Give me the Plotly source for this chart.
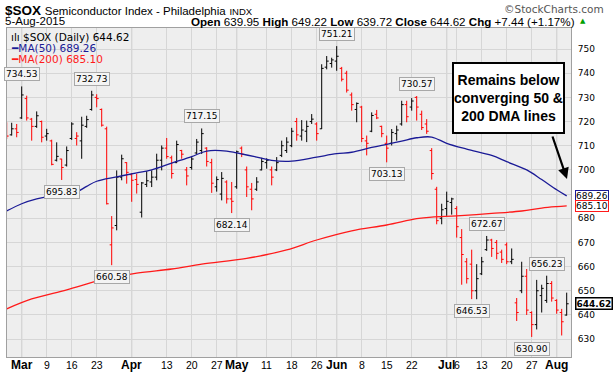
import pandas as pd
import plotly.graph_objects as go

# ---------------- data ----------------
holidays = ["2015-04-03", "2015-05-25", "2015-07-03"]
dates = [d for d in pd.bdate_range("2015-02-25", "2015-08-05").strftime("%Y-%m-%d") if d not in holidays]

opens = [717.0, 714.5, 717.0,
         721.5, 729.5, 721.0, 718.0, 720.0, 714.0, 712.0, 704.0, 704.5, 702.0,
         713.0, 713.0, 712.0, 718.0, 725.0, 730.0, 725.0, 717.0, 669.0, 677.0,
         697.0, 703.0, 698.0, 696.0, 682.5, 694.0, 695.0, 697.0, 704.0, 709.0,
         705.0, 703.0, 708.0, 700.0, 701.0, 707.0, 708.0, 709.0, 703.0, 693.0,
         690.0, 695.0, 688.0, 693.0, 709.0, 700.0, 692.0, 692.0, 700.0, 703.0,
         700.0, 700.0, 706.0, 708.0, 710.0, 720.0, 714.0, 716.0, 720.0, 719.0,
         717.0, 742.5, 744.0, 745.0, 742.0, 740.0, 731.0, 725.0, 726.0, 712.0,
         716.0, 723.0, 718.0, 711.0, 711.0, 715.0, 719.0, 727.0, 726.0, 730.0,
         723.0, 719.0, 708.0, 692.0, 680.0, 684.0, 686.5, 684.0, 672.0, 662.0,
         661.0, 650.0, 657.0, 667.0, 671.0, 670.0, 666.0, 669.0, 662.0, 645.0,
         650.0, 656.0, 641.0, 636.0, 648.0, 646.0, 653.0, 646.0, 641.0, 639.95]
highs = [719.7, 719.5, 719.0,
         734.53, 730.7, 721.5, 724.2, 720.4, 717.0, 712.5, 711.4, 704.6, 709.7,
         719.7, 715.6, 722.0, 722.4, 732.73, 731.3, 725.4, 717.9, 680.9, 699.8,
         706.3, 703.2, 698.7, 698.4, 695.0, 699.5, 699.8, 706.7, 710.1, 713.2,
         705.9, 712.1, 708.3, 701.2, 705.3, 712.8, 717.15, 709.4, 704.6, 697.3,
         699.1, 695.7, 695.0, 708.0, 709.7, 701.4, 694.6, 697.0, 705.0, 704.8,
         701.4, 705.3, 712.1, 713.5, 717.4, 721.5, 720.6, 720.4, 723.1, 719.7,
         743.7, 747.1, 746.4, 751.21, 742.6, 741.0, 732.0, 727.9, 726.5, 714.2,
         723.8, 724.8, 718.3, 714.2, 716.9, 718.3, 728.6, 728.6, 729.7, 730.57,
         724.5, 721.0, 709.0, 693.0, 686.0, 691.0, 688.5, 685.0, 675.5, 663.5,
         667.0, 661.0, 664.0, 672.67, 671.5, 671.0, 667.0, 670.0, 667.5, 647.0,
         662.0, 659.0, 641.5, 654.5, 652.5, 656.23, 654.0, 646.5, 642.5, 649.22]
lows = [712.8, 714.2, 713.5,
        721.1, 720.4, 712.1, 717.4, 711.4, 712.1, 701.9, 703.5, 695.83, 701.4,
        712.4, 710.1, 704.6, 717.4, 724.5, 725.9, 717.9, 685.7, 660.58, 675.0,
        695.7, 694.3, 686.8, 690.2, 680.3, 692.9, 692.9, 695.7, 699.8, 704.6,
        696.4, 702.8, 704.6, 693.6, 700.1, 706.6, 706.6, 701.4, 690.5, 691.0,
        687.4, 686.1, 682.14, 692.2, 705.3, 688.8, 683.3, 691.3, 699.8, 700.5,
        693.6, 699.5, 705.3, 707.0, 709.4, 712.1, 712.1, 711.5, 719.0, 712.1,
        716.9, 741.6, 742.3, 741.0, 736.6, 732.0, 724.5, 719.7, 711.5, 706.0,
        715.6, 721.0, 713.5, 703.13, 710.1, 712.1, 718.3, 719.7, 724.5, 720.4,
        716.5, 714.9, 696.0, 677.5, 677.5, 681.0, 681.5, 672.0, 652.5, 653.0,
        646.53, 646.5, 656.5, 666.5, 664.0, 663.0, 661.5, 661.0, 661.0, 637.5,
        649.0, 640.0, 630.90, 634.0, 641.0, 645.0, 645.5, 640.5, 631.5, 639.72]
closes = [714.0, 717.0, 715.5,
          731.0, 721.5, 718.0, 722.4, 713.5, 715.0, 702.3, 705.6, 701.0, 708.0,
          719.0, 714.0, 718.5, 720.8, 731.0, 729.5, 718.5, 686.0, 676.0, 697.0,
          704.6, 699.0, 695.7, 694.0, 694.6, 695.5, 697.0, 704.0, 709.0, 705.5,
          698.5, 710.5, 706.5, 697.5, 704.5, 711.5, 715.0, 703.5, 694.5, 696.0,
          696.5, 688.0, 687.0, 707.5, 706.5, 693.0, 688.0, 695.0, 703.5, 704.0,
          697.0, 703.0, 710.0, 711.5, 716.0, 714.5, 716.5, 718.0, 721.0, 715.0,
          742.0, 745.0, 745.5, 747.0, 737.5, 733.0, 727.0, 727.5, 713.0, 711.0,
          722.5, 721.5, 715.0, 709.0, 715.5, 716.5, 727.0, 722.0, 728.5, 726.0,
          717.5, 716.0, 698.5, 679.0, 683.5, 687.0, 688.0, 676.5, 665.0, 655.0,
          650.0, 655.0, 662.0, 671.0, 667.5, 665.5, 663.0, 662.0, 663.0, 641.0,
          656.0, 642.0, 636.0, 650.0, 651.0, 653.0, 647.0, 642.0, 637.18, 644.62]

# moving averages read at sample dates
ma50_dates = ["2015-02-25", "2015-03-02", "2015-03-05", "2015-03-10", "2015-03-17", "2015-03-19",
              "2015-03-23", "2015-03-27", "2015-04-02", "2015-04-08", "2015-04-14", "2015-04-20",
              "2015-04-23", "2015-04-29", "2015-05-01", "2015-05-07", "2015-05-12", "2015-05-18",
              "2015-05-26", "2015-06-01", "2015-06-04", "2015-06-10", "2015-06-15", "2015-06-18",
              "2015-06-23", "2015-06-26", "2015-07-01", "2015-07-08", "2015-07-15", "2015-07-20",
              "2015-07-24", "2015-07-29", "2015-08-03", "2015-08-05"]
ma50_vals = [683.0, 686.0, 688.0, 689.2, 690.9, 693.2, 695.3, 697.1, 698.8, 700.0, 702.8, 705.5,
             707.8, 707.8, 707.0, 705.3, 703.9, 703.6, 705.3, 706.7, 707.3, 709.3, 710.6, 711.9,
             713.3, 713.6, 711.0, 708.6, 706.0, 703.4, 700.0, 696.0, 691.8, 689.26]
ma200_dates = ["2015-02-25", "2015-03-04", "2015-03-13", "2015-03-24", "2015-04-02", "2015-04-14",
               "2015-04-22", "2015-05-05", "2015-05-15", "2015-05-26", "2015-06-04", "2015-06-15",
               "2015-06-23", "2015-06-26", "2015-07-06", "2015-07-15", "2015-07-23", "2015-07-29",
               "2015-08-03", "2015-08-05"]
ma200_vals = [642.5, 646.6, 650.4, 654.5, 657.3, 659.0, 661.0, 663.4, 666.9, 671.0, 674.8, 677.2,
              679.8, 680.5, 681.0, 682.0, 683.0, 684.2, 684.8, 685.10]

tick_dates = ["2015-03-02", "2015-03-09", "2015-03-16", "2015-03-23", "2015-04-01", "2015-04-13",
              "2015-04-20", "2015-04-27", "2015-05-01", "2015-05-11", "2015-05-18", "2015-05-26",
              "2015-06-01", "2015-06-08", "2015-06-15", "2015-06-22", "2015-07-01", "2015-07-06",
              "2015-07-13", "2015-07-20", "2015-07-27", "2015-08-03"]
tick_labels = ["Mar", "9", "16", "23", "Apr", "13", "20", "27", "May", "11", "18",
               "26", "Jun", "8", "15", "22", "Jul", "6", "13", "20", "27", "Aug"]
month_dates = ["2015-03-02", "2015-04-01", "2015-05-01", "2015-06-01", "2015-07-01", "2015-08-03"]

high_marks = ["2015-03-02", "2015-03-20", "2015-04-22", "2015-06-01", "2015-06-23", "2015-07-14", "2015-07-30"]
low_marks = ["2015-03-12", "2015-03-26", "2015-04-30", "2015-06-15", "2015-07-09", "2015-07-27"]

y_ticks = list(range(630, 751, 10))

# ---------------- geometry helpers ----------------
FW, FH = 613, 376
L, R, T, B = 7, 571, 28, 357
PW, PH = R - L, B - T
def px(x):
    return (x - L) / PW
def py(y):
    return (B - y) / PH

idx = {d: i for i, d in enumerate(dates)}
xs = list(range(len(dates)))

up_i, dn_i = [], []
for i in xs:
    prev = closes[i - 1] if i > 0 else opens[i]
    (up_i if closes[i] >= prev else dn_i).append(i)

fig = go.Figure()

for sel, col in ((up_i, "#000000"), (dn_i, "#ff0000")):
    fig.add_trace(go.Ohlc(
        x=[xs[i] for i in sel], open=[opens[i] for i in sel], high=[highs[i] for i in sel],
        low=[lows[i] for i in sel], close=[closes[i] for i in sel],
        increasing=dict(line=dict(color=col, width=1)), decreasing=dict(line=dict(color=col, width=1)),
        tickwidth=0.4, hoverinfo="skip", showlegend=False))

fig.add_trace(go.Scatter(x=[idx[d] for d in ma200_dates], y=ma200_vals, mode="lines",
                         line=dict(color="#ff1a1a", width=1.3, shape="spline"), hoverinfo="skip", showlegend=False))
fig.add_trace(go.Scatter(x=[idx[d] for d in ma50_dates], y=ma50_vals, mode="lines",
                         line=dict(color="#1a1a96", width=1.3, shape="spline"), hoverinfo="skip", showlegend=False))

shapes = []
for d in month_dates:
    shapes.append(dict(type="line", xref="x", yref="paper", x0=idx[d], x1=idx[d], y0=0, y1=1,
                       line=dict(color="#b9b9b9", width=1), layer="below"))

ann = []
F = "Liberation Sans, Arial, sans-serif"
V = "DejaVu Sans, Verdana, sans-serif"
# header
ann.append(dict(x=px(3), y=py(10), xref="paper", yref="paper", xanchor="left", yanchor="middle", showarrow=False,
                text="<b>$SOX</b> <span style='font-size:11.5px'>Semiconductor Index - Philadelphia</span> "
                     "<span style='font-size:9.5px'>INDX</span>",
                font=dict(family=F, size=13.5, color="#000")))
ann.append(dict(x=px(606), y=py(9), xref="paper", yref="paper", xanchor="right", yanchor="middle", showarrow=False,
                text="©StockCharts.com", font=dict(family=V, size=10.5, color="#555")))
ann.append(dict(x=px(3), y=py(21), xref="paper", yref="paper", xanchor="left", yanchor="middle", showarrow=False,
                text="5-Aug-2015", font=dict(family=F, size=11.5, color="#000")))
last, prev_close = len(closes) - 1, closes[-2]
chg = closes[last] - prev_close
hdr = ("<b>Open</b> %.2f <b>High</b> %.2f <b>Low</b> %.2f <b>Close</b> %.2f <b>Chg</b> %+.2f (%+.2f%%)"
       % (opens[last], highs[last], lows[last], closes[last], chg, chg / prev_close * 100))
ann.append(dict(x=px(577), y=py(21), xref="paper", yref="paper", xanchor="right", yanchor="middle", showarrow=False,
                text=hdr, font=dict(family=F, size=11.6, color="#000")))
ann.append(dict(x=px(578), y=py(21), xref="paper", yref="paper", xanchor="left", yanchor="middle", showarrow=False,
                text="▲", font=dict(family=V, size=7, color="#00a000")))
# legend
ann.append(dict(x=px(9), y=py(37), xref="paper", yref="paper", xanchor="left", yanchor="middle", showarrow=False,
                text="ılı $SOX (Daily) %.2f" % closes[last], font=dict(family=V, size=10.5, color="#000")))
ann.append(dict(x=px(9), y=py(48), xref="paper", yref="paper", xanchor="left", yanchor="middle", showarrow=False,
                text="<b>━</b>MA(50) %.2f" % ma50_vals[-1], font=dict(family=V, size=10.5, color="#1a1a96")))
ann.append(dict(x=px(9), y=py(59), xref="paper", yref="paper", xanchor="left", yanchor="middle", showarrow=False,
                text="<b>━</b>MA(200) %.2f" % ma200_vals[-1], font=dict(family=V, size=10.5, color="#ff1a1a")))
# x-axis date labels
for d, lab in zip(tick_dates, tick_labels):
    is_month = not lab.isdigit()
    ann.append(dict(x=idx[d], y=py(364.5), xref="x", yref="paper", xanchor="center", yanchor="middle",
                    showarrow=False, text="<b>%s</b>" % lab if is_month else lab,
                    font=dict(family=F, size=12 if is_month else 10.5, color="#000")))
# peak labels
for d in high_marks:
    i = idx[d]
    ann.append(dict(x=i, y=highs[i], xref="x", yref="y", xanchor="center", yanchor="bottom", yshift=5,
                    showarrow=False, text="%.2f" % highs[i], font=dict(family=V, size=9, color="#000"),
                    bgcolor="#f4f4f4", bordercolor="#a8a8a8", borderwidth=1, borderpad=1))
for d in low_marks:
    i = idx[d]
    ann.append(dict(x=i, y=lows[i], xref="x", yref="y", xanchor="center", yanchor="top", yshift=-5,
                    showarrow=False, text="%.2f" % lows[i], font=dict(family=V, size=9, color="#000"),
                    bgcolor="#f4f4f4", bordercolor="#a8a8a8", borderwidth=1, borderpad=1))
# right value tags
for val, col, bold in ((ma50_vals[-1], "#1a1a96", False), (ma200_vals[-1], "#ff1a1a", False), (closes[last], "#000", True)):
    txt = ("<b>%.2f</b>" if bold else "%.2f") % val
    ann.append(dict(x=1, y=val, xref="paper", yref="y", xanchor="left", yanchor="middle", xshift=4,
                    showarrow=False, text=txt, font=dict(family=V, size=9, color="#000"),
                    bgcolor="#ffffff", bordercolor=col, borderwidth=1.5 if bold else 1, borderpad=0))
# callout
ann.append(dict(x=px(508.5), y=py(98), xref="paper", yref="paper", xanchor="center", yanchor="middle",
                showarrow=False, text="<b>Remains below<br>converging 50 &<br>200 DMA lines</b>",
                font=dict(family=F, size=14, color="#000"), align="center",
                width=109, height=68, bgcolor="#ffffff", bordercolor="#000", borderwidth=2, borderpad=0))
ann.append(dict(x=px(567), y=py(179), xref="paper", yref="paper", ax=-15, ay=-44, axref="pixel", ayref="pixel",
                showarrow=True, arrowhead=2, arrowsize=1, arrowwidth=2.2, arrowcolor="#000", text=""))

fig.update_layout(
    width=FW, height=FH, margin=dict(l=L, r=FW - R, t=T, b=FH - B),
    paper_bgcolor="#ffffff", plot_bgcolor="#eeeeee",
    shapes=shapes, annotations=ann, showlegend=False,
    xaxis=dict(range=[0.06, 112.86], rangeslider=dict(visible=False), automargin=False,
               tickvals=[idx[d] for d in tick_dates], showticklabels=False, ticks="",
               showgrid=True, gridcolor="#d6d6d6", gridwidth=1, zeroline=False,
               showline=True, linecolor="#a0a0a0", mirror=True),
    yaxis=dict(range=[622.6, 758.7], side="right", tickvals=y_ticks, automargin=False,
               tickfont=dict(family=V, size=9, color="#000"), ticks="", ticklen=0, ticklabelstandoff=4,
               showgrid=True, gridcolor="#d6d6d6", gridwidth=1, zeroline=False,
               showline=True, linecolor="#a0a0a0", mirror=True),
)

fig.write_html("out.html", config={"displayModeBar": False},
               post_script="document.documentElement.style.margin='0';document.body.style.margin='0';"
                           "document.documentElement.style.overflow='hidden';document.body.style.overflow='hidden';")
